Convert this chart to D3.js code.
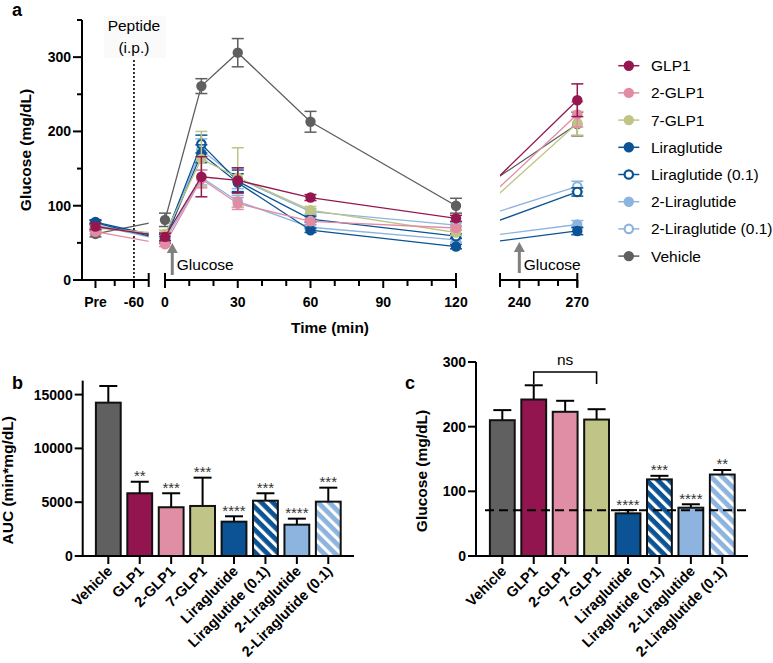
<!DOCTYPE html>
<html><head><meta charset="utf-8">
<script src="https://cdn.jsdelivr.net/npm/d3@7"></script>
<style>
body{margin:0;background:#fff}
text{font-family:"Liberation Sans",Arial,Helvetica,sans-serif;fill:#000}
</style>
</head><body>
<svg id="chart" width="773" height="663"></svg>
<script>
// ---------- DATA ----------
const seriesNames = ["GLP1","2-GLP1","7-GLP1","Liraglutide","Liraglutide (0.1)","2-Liraglutide","2-Liraglutide (0.1)","Vehicle"];
const seriesColors = ["#95174F","#E18BA5","#BFC384","#0B5394","#0B5394","#8DB4DE","#8DB4DE","#5F5F5F"];
const seriesHollow = [false,false,false,false,true,false,true,false];
// time points (min); -120 is the "Pre" sample
const timePoints = [-120,0,15,30,60,120,270];
const glpValues      = [72,58,139,134,111,83,242];
const glp2Values     = [65,48,136,103,79,70,223];
const glp7Values     = [70,62,163,138,94,64,211];
const liraValues     = [77,54,170,131,67,45,66];
const lira01Values   = [78,57,183,133,82,59,118.5];
const lira2Values    = [74,53,138,106,71,54,74.7];
const lira201Values  = [73,60,175,137,92,74,126];
const vehicleValues  = [62,81,261,306,213,100,210];
const glpErr     = [4,5,27,17,4,4,22];
const glp2Err    = [3,3,12,8,4,3,17];
const glp7Err    = [4,5,37,40,5,4,16];
const liraErr    = [3,4,12,12,3,3,5];
const lira01Err  = [3,4,12,15,4,3,5.5];
const lira2Err   = [3,4,10,8,3,3,5.3];
const lira201Err = [3,4,15,14,4,3,7];
const vehicleErr = [4,9,10,19,14,10,16];
const seriesValues = [glpValues,glp2Values,glp7Values,liraValues,lira01Values,lira2Values,lira201Values,vehicleValues];
const seriesErrors = [glpErr,glp2Err,glp7Err,liraErr,lira01Err,lira2Err,lira201Err,vehicleErr];

const yTicksA = [0,100,200,300];
const xTickLabelsA = [[-120,"Pre"],[-60,"-60"],[0,"0"],[30,"30"],[60,"60"],[90,"90"],[120,"120"],[240,"240"],[270,"270"]];

const barCategories = ["Vehicle","GLP1","2-GLP1","7-GLP1","Liraglutide","Liraglutide (0.1)","2-Liraglutide","2-Liraglutide (0.1)"];
const barColors = ["#606060","#931550","#DF8EA5","#C0C487","#0B5394","#0B5394","#8DB4DE","#8DB4DE"];
const barHatched = [false,false,false,false,false,true,false,true];
const aucValues = [14250,5830,4530,4650,3190,5140,2910,5050];
const aucErrors = [1550,1070,1300,2630,500,690,560,1300];
const aucStars = ["","**","***","***","****","***","****","***"];
const aucTicks = [0,5000,10000,15000];
const glucose270Values = [210,242,223,211,66,118.5,74.7,126];
const glucose270Errors = [15.6,22,17,16,5,5.5,5.3,7];
const glucose270Stars = ["","","","","****","***","****","**"];
const glucoseTicksC = [0,100,200,300];
const baselineGlucose = 70.6;

// ---------- CHART ----------
const svg = d3.select("#chart");
const defs = svg.append("defs");

// ===== Panel a =====
const yA = d3.scaleLinear().domain([0,350]).range([280,20]);
const s1 = d3.scaleLinear().domain([-141,-37]).range([82,148.7]);
const s2 = d3.scaleLinear().domain([0,120]).range([165,456]);
const s3 = d3.scaleLinear().domain([230,270]).range([500,577.3]);
const xA = t => t < -30 ? s1(t) : (t <= 120 ? s2(t) : s3(t));

const gA = svg.append("g");
svg.append("text").attr("x",12).attr("y",16).attr("font-size",18).attr("font-weight","bold").text("a");

// peptide annotation
gA.append("rect").attr("x",104).attr("y",16).attr("width",62).attr("height",42).attr("fill","#fafafa");
gA.append("text").attr("x",xA(-60)).attr("y",31).attr("text-anchor","middle").attr("font-size",15.5).text("Peptide");
gA.append("text").attr("x",xA(-60)).attr("y",53).attr("text-anchor","middle").attr("font-size",15.5).text("(i.p.)");
gA.append("line").attr("x1",xA(-60)).attr("x2",xA(-60)).attr("y1",60).attr("y2",yA(0))
  .attr("stroke","#000").attr("stroke-width",1.6).attr("stroke-dasharray","2,2");

// axes
const axisW = 2;
gA.append("line").attr("x1",82).attr("x2",82).attr("y1",yA(350)).attr("y2",yA(0)).attr("stroke","#000").attr("stroke-width",axisW);
[0,50,100,150,200,250,300,350].forEach(v=>{
  const major = v%100===0;
  gA.append("line").attr("x1",major?73:77).attr("x2",82).attr("y1",yA(v)).attr("y2",yA(v)).attr("stroke","#000").attr("stroke-width",axisW);
});
yTicksA.forEach(v=>{
  gA.append("text").attr("x",71).attr("y",yA(v)+5).attr("text-anchor","end").attr("font-size",14).attr("font-weight","bold").text(v);
});
gA.append("text").attr("transform",`translate(31,150) rotate(-90)`).attr("text-anchor","middle")
  .attr("font-size",15.5).attr("font-weight","bold").text("Glucose (mg/dL)");

const segs = [[s1,-141,-37],[s2,0,120],[s3,230,270]];
segs.forEach(([s,a,b])=>{
  gA.append("line").attr("x1",s(a)).attr("x2",s(b)).attr("y1",280).attr("y2",280).attr("stroke","#000").attr("stroke-width",axisW);
});
const majorT = [-120,-60,0,30,60,90,120,240,270];
const minorT = [-90,10,20,40,50,70,80,100,110,250,260];
majorT.forEach(t=>gA.append("line").attr("x1",xA(t)).attr("x2",xA(t)).attr("y1",280).attr("y2",288).attr("stroke","#000").attr("stroke-width",axisW));
minorT.forEach(t=>gA.append("line").attr("x1",xA(t)).attr("x2",xA(t)).attr("y1",280).attr("y2",286).attr("stroke","#000").attr("stroke-width",axisW));
[s1(-37),s2(0),s2(120),s3(230),s3(270)].forEach(x=>{
  gA.append("line").attr("x1",x).attr("x2",x).attr("y1",273).attr("y2",287).attr("stroke","#000").attr("stroke-width",axisW);
});
xTickLabelsA.forEach(([t,l])=>{
  gA.append("text").attr("x",xA(t)).attr("y",307).attr("text-anchor","middle").attr("font-size",14).attr("font-weight","bold").text(l);
});
gA.append("text").attr("x",330).attr("y",333).attr("text-anchor","middle").attr("font-size",15.5).attr("font-weight","bold").text("Time (min)");

// glucose arrows
function arrow(x, yb, yt){
  gA.append("line").attr("x1",x).attr("x2",x).attr("y1",yb).attr("y2",yt+9).attr("stroke","#808080").attr("stroke-width",3);
  gA.append("path").attr("d",`M${x-5.5},${yt+10}L${x},${yt}L${x+5.5},${yt+10}Z`).attr("fill","#808080");
}
arrow(xA(3),275,243);
gA.append("text").attr("x",xA(3)+4.5).attr("y",270).attr("font-size",15.5).text("Glucose");
arrow(xA(240),273,242);
gA.append("text").attr("x",xA(240)+4.5).attr("y",270).attr("font-size",15.5).text("Glucose");

// clip for lines
const clip = defs.append("clipPath").attr("id","segclip");
clip.append("rect").attr("x",82).attr("y",0).attr("width",s1(-37)-82).attr("height",290);
clip.append("rect").attr("x",s2(0)).attr("y",0).attr("width",s2(120)-s2(0)).attr("height",290);
clip.append("rect").attr("x",s3(230)).attr("y",0).attr("width",s3(270)-s3(230)+10).attr("height",290);

const line = d3.line().x(d=>xA(d.t)).y(d=>yA(d.v));
const drawOrder = [7,6,5,4,3,2,1,0];
drawOrder.forEach(i=>{
  const pts = timePoints.map((t,k)=>({t, v:seriesValues[i][k], e:seriesErrors[i][k]}));
  const g = gA.append("g");
  g.append("path").datum(pts).attr("d",line).attr("fill","none").attr("stroke",seriesColors[i])
    .attr("stroke-width",1.3).attr("clip-path","url(#segclip)");
  pts.forEach(p=>{
    const x = xA(p.t);
    g.append("line").attr("x1",x).attr("x2",x).attr("y1",yA(p.v-p.e)).attr("y2",yA(p.v+p.e)).attr("stroke",seriesColors[i]).attr("stroke-width",1.5);
    [p.v-p.e,p.v+p.e].forEach(v=>g.append("line").attr("x1",x-6).attr("x2",x+6).attr("y1",yA(v)).attr("y2",yA(v)).attr("stroke",seriesColors[i]).attr("stroke-width",1.5));
  });
  pts.forEach(p=>{
    g.append("circle").attr("cx",xA(p.t)).attr("cy",yA(p.v))
      .attr("r",seriesHollow[i]?4.2:5.2)
      .attr("fill",seriesHollow[i]?"#fff":seriesColors[i])
      .attr("stroke",seriesHollow[i]?seriesColors[i]:"none").attr("stroke-width",2.2);
  });
});

// legend
seriesNames.forEach((n,i)=>{
  const y = 65.7 + i*27.2;
  const g = gA.append("g");
  g.append("line").attr("x1",618.3).attr("x2",639.3).attr("y1",y).attr("y2",y).attr("stroke",seriesColors[i]).attr("stroke-width",1.5);
  g.append("circle").attr("cx",628.8).attr("cy",y).attr("r",seriesHollow[i]?4.2:5.2)
    .attr("fill",seriesHollow[i]?"#fff":seriesColors[i])
    .attr("stroke",seriesHollow[i]?seriesColors[i]:"none").attr("stroke-width",2.2);
  g.append("text").attr("x",651).attr("y",y+5.5).attr("font-size",15.5).text(n);
});

// ===== hatch patterns =====
function hatch(id,color){
  const p = defs.append("pattern").attr("id",id).attr("patternUnits","userSpaceOnUse")
    .attr("width",8).attr("height",8).attr("patternTransform","rotate(-45)");
  p.append("rect").attr("width",8).attr("height",8).attr("fill",color);
  p.append("rect").attr("x",0).attr("width",3.2).attr("height",8).attr("fill","#fff");
}
hatch("hatchDark","#0B5394");
hatch("hatchLight","#8DB4DE");
const barFill = i => barHatched[i] ? (barColors[i]==="#0B5394"?"url(#hatchDark)":"url(#hatchLight)") : barColors[i];

function barPanel(opts){
  const {x0,xEnd,bandStart,bandEnd,y,values,errors,stars,ticks,label,labelX,letter,letterX} = opts;
  const g = svg.append("g");
  const xb = d3.scaleBand().domain(barCategories).range([bandStart,bandEnd]).paddingInner(0.21).paddingOuter(0.105);
  const bw = xb.bandwidth();
  barCategories.forEach((c,i)=>{
    const cx = xb(c)+bw/2;
    g.append("line").attr("x1",cx).attr("x2",cx).attr("y1",y(values[i])).attr("y2",y(values[i]+errors[i])).attr("stroke","#000").attr("stroke-width",2);
    g.append("line").attr("x1",cx-9).attr("x2",cx+9).attr("y1",y(values[i]+errors[i])).attr("y2",y(values[i]+errors[i])).attr("stroke","#000").attr("stroke-width",2);
    g.append("rect").attr("x",xb(c)).attr("y",y(values[i])).attr("width",bw).attr("height",y(0)-y(values[i]))
      .attr("fill",barFill(i)).attr("stroke","#111").attr("stroke-width",2);
    if(stars[i]) g.append("text").attr("x",cx).attr("y",y(values[i]+errors[i])-0.5).attr("text-anchor","middle")
      .attr("font-size",15).style("fill","#333").text(stars[i]);
    g.append("line").attr("x1",cx).attr("x2",cx).attr("y1",y(0)).attr("y2",y(0)+8).attr("stroke","#000").attr("stroke-width",2);
    g.append("text").attr("transform",`translate(${cx+5},${y(0)+16}) rotate(-45)`).attr("text-anchor","end")
      .attr("font-size",14.5).attr("font-weight","bold").text(c);
  });
  const top = y.range()[1];
  g.append("line").attr("x1",x0).attr("x2",x0).attr("y1",top).attr("y2",y(0)+1).attr("stroke","#000").attr("stroke-width",2);
  g.append("line").attr("x1",x0-1).attr("x2",xEnd).attr("y1",y(0)).attr("y2",y(0)).attr("stroke","#000").attr("stroke-width",2);
  ticks.forEach(v=>{
    g.append("line").attr("x1",x0-8).attr("x2",x0).attr("y1",y(v)).attr("y2",y(v)).attr("stroke","#000").attr("stroke-width",2);
    g.append("text").attr("x",x0-10).attr("y",y(v)+5).attr("text-anchor","end").attr("font-size",14).attr("font-weight","bold").text(v);
  });
  const cy = (y(0)+top)/2+12;
  g.append("text").attr("transform",`translate(${labelX},${cy}) rotate(-90)`).attr("text-anchor","middle")
    .attr("font-size",15.5).attr("font-weight","bold").text(label);
  svg.append("text").attr("x",letterX).attr("y",389).attr("font-size",18).attr("font-weight","bold").text(letter);
  return {g,xb,bw};
}

// ===== Panel b =====
const yB = d3.scaleLinear().domain([0,16300]).range([556,380.6]);
barPanel({x0:82.7,xEnd:354,bandStart:92.6,bandEnd:344,y:yB,values:aucValues,errors:aucErrors,stars:aucStars,
  ticks:aucTicks,label:"AUC (min*mg/dL)",labelX:13,letter:"b",letterX:12});

// ===== Panel c =====
const yC = d3.scaleLinear().domain([0,300]).range([556,362]);
const pc = barPanel({x0:476,xEnd:748,bandStart:486.6,bandEnd:738,y:yC,values:glucose270Values,errors:glucose270Errors,stars:glucose270Stars,
  ticks:glucoseTicksC,label:"Glucose (mg/dL)",labelX:427,letter:"c",letterX:405});
pc.g.append("line").attr("x1",485).attr("x2",750).attr("y1",yC(baselineGlucose)).attr("y2",yC(baselineGlucose))
  .attr("stroke","#000").attr("stroke-width",2).attr("stroke-dasharray","9,5");
const bx1 = pc.xb("GLP1")+pc.bw/2, bx2 = pc.xb("7-GLP1")+pc.bw/2;
pc.g.append("path").attr("d",`M${bx1},384V372H${bx2}V384`).attr("fill","none").attr("stroke","#000").attr("stroke-width",1.6);
pc.g.append("text").attr("x",(bx1+bx2)/2).attr("y",365).attr("text-anchor","middle").attr("font-size",15.5).text("ns");
</script>
</body></html>
